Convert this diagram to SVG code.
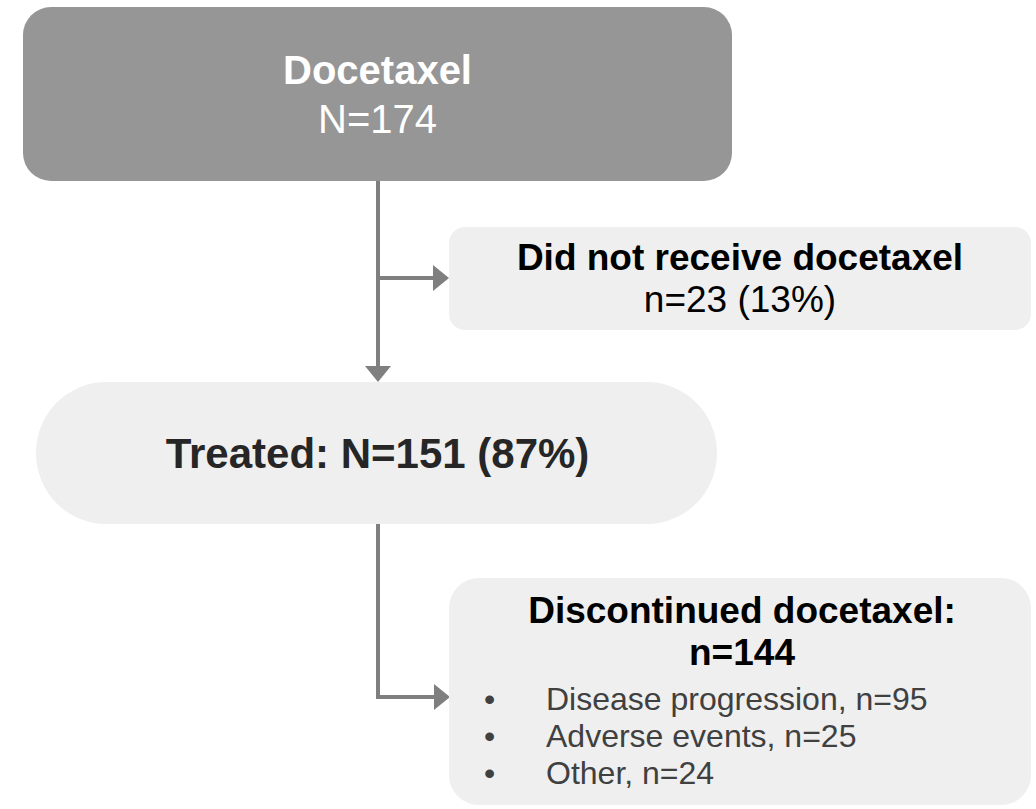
<svg xmlns="http://www.w3.org/2000/svg" width="1036" height="809" viewBox="0 0 1036 809">
<defs>
<style>
.t{font-family:"Liberation Sans",Arial,sans-serif;text-anchor:middle}
.b{font-weight:bold}
.conn{fill:none;stroke:#7f7f7f;stroke-width:4}
.light{fill:#efefef}
.bul{font-family:"Liberation Sans",Arial,sans-serif;font-size:32px;fill:#404040}
</style>
<marker id="ah" markerUnits="userSpaceOnUse" markerWidth="16" markerHeight="26" refX="0" refY="13" orient="auto">
<path d="M0,0 L16,13 L0,26 z" fill="#7f7f7f"/>
</marker>
</defs>
<rect width="1036" height="809" fill="#ffffff"/>
<g id="connectors">
<path class="conn" d="M378,179 V366" marker-end="url(#ah)"/>
<path class="conn" d="M378,278 H433" marker-end="url(#ah)"/>
<path class="conn" d="M378,522 V697 H434" marker-end="url(#ah)"/>
</g>
<g id="docetaxel">
<rect x="23" y="7" width="709" height="174" rx="28" fill="#969696"/>
<text class="t b" x="377.5" y="84" font-size="40" fill="#ffffff">Docetaxel</text>
<text class="t" x="377.5" y="133" font-size="40" fill="#ffffff">N=174</text>
</g>
<g id="not-received">
<rect class="light" x="449" y="227" width="582" height="103" rx="16"/>
<text class="t b" x="740" y="270" font-size="37" fill="#000000">Did not receive docetaxel</text>
<text class="t" x="740" y="312" font-size="37" fill="#000000">n=23 (13%)</text>
</g>
<g id="treated">
<rect class="light" x="36" y="382" width="681" height="142" rx="70" ry="71"/>
<text class="t b" x="377.5" y="468" font-size="42" fill="#262626">Treated: N=151 (87%)</text>
</g>
<g id="discontinued">
<rect class="light" x="449" y="578" width="582" height="227" rx="30"/>
<text class="t b" x="742" y="623" font-size="37" fill="#000000">Discontinued docetaxel:</text>
<text class="t b" x="742" y="665" font-size="37" fill="#000000">n=144</text>
<text class="bul" x="484" y="710">•</text>
<text class="bul" x="546" y="710">Disease progression, n=95</text>
<text class="bul" x="484" y="747">•</text>
<text class="bul" x="546" y="747">Adverse events, n=25</text>
<text class="bul" x="484" y="784">•</text>
<text class="bul" x="546" y="784">Other, n=24</text>
</g>
</svg>
